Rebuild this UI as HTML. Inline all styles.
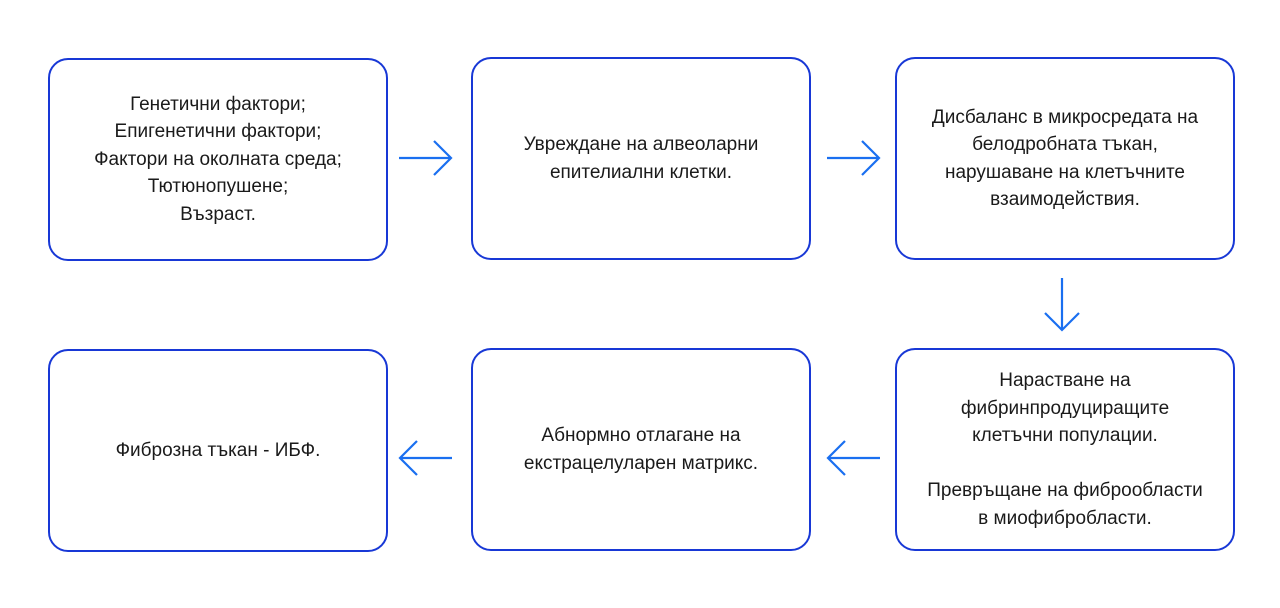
<!DOCTYPE html>
<html><head><meta charset="utf-8"><style>
body{margin:0;width:1280px;height:608px;background:#fff;position:relative;font-family:"Liberation Sans","DejaVu Sans",sans-serif;overflow:hidden}
.b{position:absolute;width:336px;height:200px;border:2px solid #1838d6;border-radius:20px;box-sizing:border-box;display:flex;align-items:center;justify-content:center;text-align:center;font-size:19px;line-height:27.5px;color:#1a1a1a}
svg{position:absolute;left:0;top:0}
</style></head><body>
<div class="b" style="left:48px;top:58px;width:340px;height:203px">Генетични фактори;<br>Епигенетични фактори;<br>Фактори на околната среда;<br>Тютюнопушене;<br>Възраст.</div>
<div class="b" style="left:471px;top:57px;width:340px;height:203px">Увреждане на алвеоларни<br>епителиални клетки.</div>
<div class="b" style="left:895px;top:57px;width:340px;height:203px">Дисбаланс в микросредата на<br>белодробната тъкан,<br>нарушаване на клетъчните<br>взаимодействия.</div>
<div class="b" style="left:48px;top:349px;width:340px;height:203px">Фиброзна тъкан - ИБФ.</div>
<div class="b" style="left:471px;top:348px;width:340px;height:203px">Абнормно отлагане на<br>екстрацелуларен матрикс.</div>
<div class="b" style="left:895px;top:348px;width:340px;height:203px">Нарастване на<br>фибринпродуциращите<br>клетъчни популации.<br><br>Превръщане на фиброобласти<br>в миофибробласти.</div>
<svg width="1280" height="608" fill="none" stroke="#1a6ff0" stroke-width="2.2">
<path d="M399 158H450M434 141L451 158L434 175"/>
<path d="M827 158H878M862 141L879 158L862 175"/>
<path d="M1062 278V329M1045 313L1062 330L1079 313"/>
<path d="M880 458H829M845 441L828 458L845 475"/>
<path d="M452 458H401M417 441L400 458L417 475"/>
</svg>
</body></html>
